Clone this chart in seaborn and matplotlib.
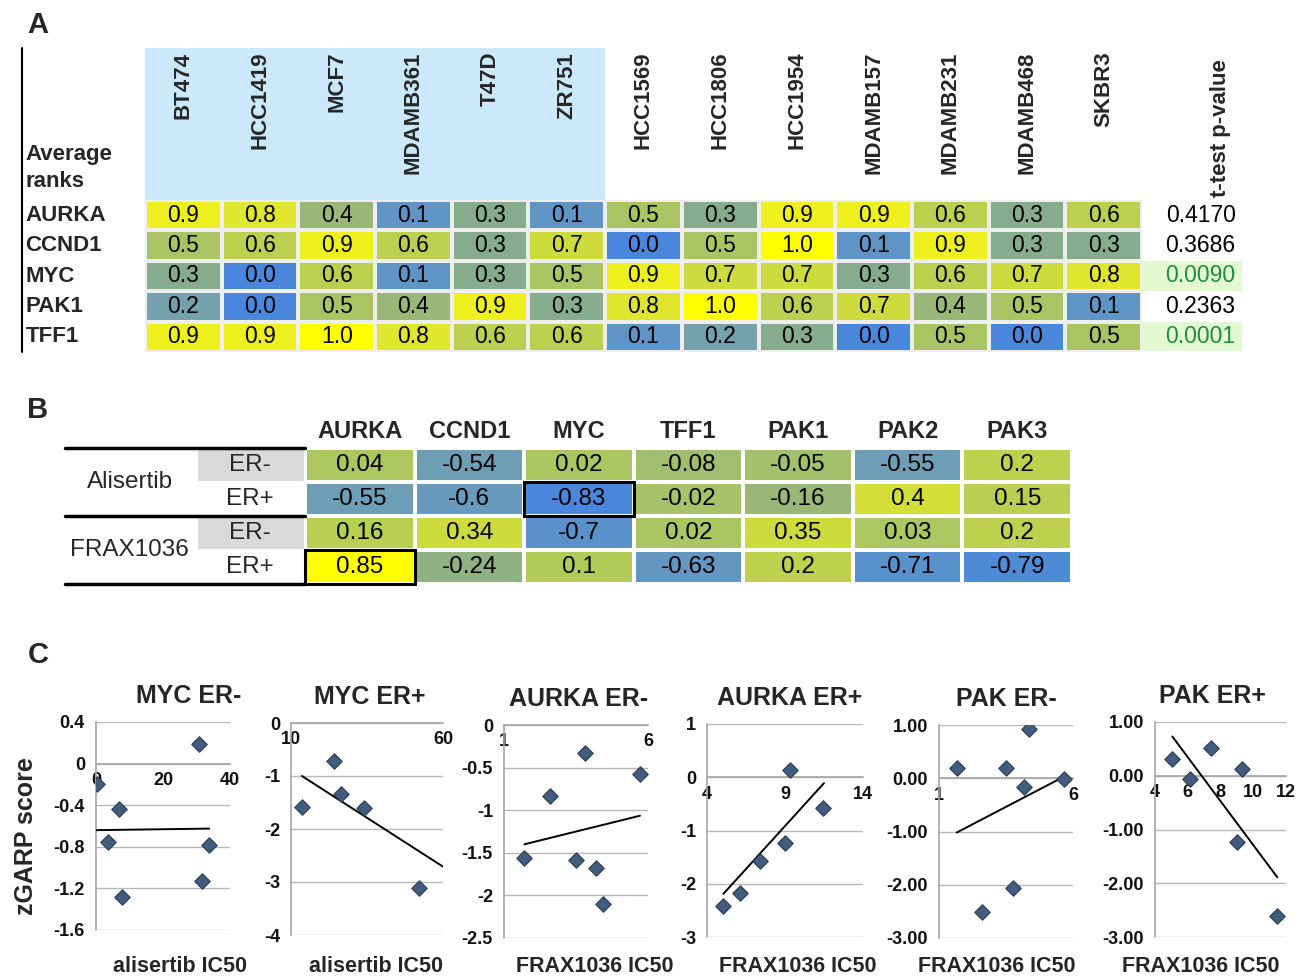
import numpy as np
import pandas as pd
import matplotlib
matplotlib.use("Agg")
import matplotlib.pyplot as plt
import seaborn as sns
from matplotlib.colors import LinearSegmentedColormap
from matplotlib.patches import Rectangle

sns.set_theme(style="white")
plt.rcParams['font.family'] = ['Liberation Sans', 'DejaVu Sans']
NARROW = ['Liberation Sans Narrow', 'Liberation Sans']

# ---------------- panel A : average ranks
cell_lines = ["BT474", "HCC1419", "MCF7", "MDAMB361", "T47D", "ZR751",
              "HCC1569", "HCC1806", "HCC1954", "MDAMB157", "MDAMB231",
              "MDAMB468", "SKBR3"]
genes_a = ["AURKA", "CCND1", "MYC", "PAK1", "TFF1"]
aurka_rank = [0.9, 0.8, 0.4, 0.1, 0.3, 0.1, 0.5, 0.3, 0.9, 0.9, 0.6, 0.3, 0.6]
ccnd1_rank = [0.5, 0.6, 0.9, 0.6, 0.3, 0.7, 0.0, 0.5, 1.0, 0.1, 0.9, 0.3, 0.3]
myc_rank = [0.3, 0.0, 0.6, 0.1, 0.3, 0.5, 0.9, 0.7, 0.7, 0.3, 0.6, 0.7, 0.8]
pak1_rank = [0.2, 0.0, 0.5, 0.4, 0.9, 0.3, 0.8, 1.0, 0.6, 0.7, 0.4, 0.5, 0.1]
tff1_rank = [0.9, 0.9, 1.0, 0.8, 0.6, 0.6, 0.1, 0.2, 0.3, 0.0, 0.5, 0.0, 0.5]
pvalues = [0.4170, 0.3686, 0.0090, 0.2363, 0.0001]
n_er_pos = 6

# ---------------- panel B : correlations
genes_b = ["AURKA", "CCND1", "MYC", "TFF1", "PAK1", "PAK2", "PAK3"]
drugs = ["Alisertib", "FRAX1036"]
er_status = ["ER-", "ER+"]
alisertib_neg = [0.04, -0.54, 0.02, -0.08, -0.05, -0.55, 0.2]
alisertib_pos = [-0.55, -0.6, -0.83, -0.02, -0.16, 0.4, 0.15]
frax_neg = [0.16, 0.34, -0.7, 0.02, 0.35, 0.03, 0.2]
frax_pos = [0.85, -0.24, 0.1, -0.63, 0.2, -0.71, -0.79]

# ---------------- panel C : zGARP vs IC50
myc_neg_ic50 = [0.2, 3.7, 6.9, 7.7, 30.7, 31.5, 33.8]
myc_neg_z = [-0.2, -0.75, -0.44, -1.28, 0.19, -1.13, -0.78]
myc_neg_trend = ([0.0, 33.8], [-0.64, -0.625])

myc_pos_ic50 = [13.6, 24.0, 26.5, 33.9, 52.0]
myc_pos_z = [-1.58, -0.72, -1.34, -1.61, -3.11]
myc_pos_trend = ([13.6, 60.0], [-1.0, -2.71])

aurka_neg_ic50 = [1.71, 2.60, 3.50, 3.81, 4.19, 4.43, 5.72]
aurka_neg_z = [-1.565, -0.83, -1.59, -0.325, -1.68, -2.10, -0.575]
aurka_neg_trend = ([1.71, 5.72], [-1.40, -1.065])

aurka_pos_ic50 = [5.05, 6.12, 7.40, 9.0, 9.32, 11.46]
aurka_pos_z = [-2.42, -2.17, -1.57, -1.23, 0.14, -0.57]
aurka_pos_trend = ([5.05, 11.5], [-2.19, -0.11])

pak_neg_ic50 = [1.68, 2.59, 3.49, 3.75, 4.17, 4.37, 5.66]
pak_neg_z = [0.19, -2.51, 0.19, -2.07, -0.17, 0.93, -0.02]
pak_neg_trend = ([1.66, 5.70], [-1.02, 0.04])

pak_pos_ic50 = [5.02, 6.14, 7.42, 8.99, 9.29, 11.47]
pak_pos_z = [0.32, -0.06, 0.51, -1.23, 0.13, -2.60]
pak_pos_trend = ([5.06, 11.47], [0.73, -1.89])

W, H = 1299, 976
fig = plt.figure(figsize=(W / 100, H / 100), dpi=100)


def box(x0, y0, x1, y1):
    return [x0 / W, 1 - y1 / H, (x1 - x0) / W, (y1 - y0) / H]


def fpos(x, y):
    return x / W, 1 - y / H


cmap = LinearSegmentedColormap.from_list(
    "rank", [(0, '#4a87dc'), (0.15, '#6a9cba'), (0.3, '#87ac8c'),
             (0.5, '#aac464'), (0.7, '#cddc3c'), (0.9, '#eef01e'),
             (1, '#ffff00')])

# ================= A
axA = fig.add_axes(box(145, 200, 1142, 352))
dfA = pd.DataFrame([aurka_rank, ccnd1_rank, myc_rank, pak1_rank, tff1_rank],
                   index=genes_a, columns=cell_lines)
sns.heatmap(dfA, ax=axA, cmap=cmap, vmin=0, vmax=1, annot=True, fmt=".1f",
            cbar=False, linewidths=1.5, linecolor='#eeeeee',
            xticklabels=False, yticklabels=False,
            annot_kws=dict(fontsize=16.5, family=NARROW, color='black'))
axA.add_patch(Rectangle((0, -5), n_er_pos, 5, facecolor='#cce9fc',
                        edgecolor='none', clip_on=False, zorder=0))
for j, name in enumerate(cell_lines):
    axA.text(j + 0.5, -4.88, name, rotation=90, ha='center', va='top',
             fontsize=16, fontweight='bold', clip_on=False)
axA.text(14.02, -4.62, "t-test p-value", rotation=90, ha='center', va='top',
         fontsize=16, fontweight='bold', clip_on=False)
for i, (g, p) in enumerate(zip(genes_a, pvalues)):
    axA.text(-1.56, i + 0.5, g, ha='left', va='center', fontsize=16,
             fontweight='bold', clip_on=False)
    sig = p < 0.05
    if sig:
        axA.add_patch(Rectangle((13, i + 0.02), 1.3, 0.96, facecolor='#e2f9d2',
                                edgecolor='none', clip_on=False))
    axA.text(14.22, i + 0.5, f"{p:.4f}", ha='right', va='center',
             fontsize=16.5, family=NARROW,
             color='#1e8c3e' if sig else 'black', clip_on=False)
axA.text(-1.56, -1.05, "Average\nranks", ha='left', va='center', fontsize=16,
         fontweight='bold', linespacing=1.35, clip_on=False)
axA.plot([-1.604, -1.604], [-5, 5], color='black', lw=1.5, clip_on=False)

# ================= B
axB = fig.add_axes(box(305, 448, 1072, 584))
dfB = pd.DataFrame([alisertib_neg, alisertib_pos, frax_neg, frax_pos],
                   columns=genes_b)
sns.heatmap(dfB, ax=axB, cmap=cmap, vmin=-0.83, vmax=0.85, annot=True,
            fmt="g", cbar=False, linewidths=1.5, linecolor='white',
            xticklabels=False, yticklabels=False,
            annot_kws=dict(fontsize=17.5, family=NARROW, color='black'))
for j, g in enumerate(genes_b):
    axB.text(j + 0.5, -0.5, g, ha='center', va='center', fontsize=17,
             fontweight='bold', clip_on=False)
for r in range(4):
    er = er_status[r % 2]
    axB.add_patch(Rectangle((-0.985, r), 0.985, 1,
                            facecolor='#d9d9d9' if er == "ER-" else 'white',
                            edgecolor='white', lw=1.5, clip_on=False))
    axB.text(-0.5, r + 0.5, er, ha='center', va='center', fontsize=17.5,
             family=NARROW, clip_on=False)
for k, d in enumerate(drugs):
    axB.text(-1.6, 2 * k + 1, d, ha='center', va='center', fontsize=17.5,
             family=NARROW, clip_on=False)
for yy in (0, 2, 4):
    axB.plot([-2.19, 0], [yy, yy], color='black', lw=2.5, clip_on=False)
axB.add_patch(Rectangle((2, 1), 1, 1, fill=False, edgecolor='black', lw=2.2,
                        clip_on=False))
axB.add_patch(Rectangle((0, 3), 1, 1, fill=False, edgecolor='black', lw=2.2,
                        clip_on=False))

# ================= C
panels = [
    ("MYC ER-", myc_neg_ic50, myc_neg_z, myc_neg_trend, (0, 40), [0, 20, 40],
     (-1.6, 0.4), [0.4, 0, -0.4, -0.8, -1.2, -1.6], "{:g}",
     (96, 722, 230, 930), 0.69, "alisertib IC50", 180),
    ("MYC ER+", myc_pos_ic50, myc_pos_z, myc_pos_trend, (10, 60), [10, 60],
     (-4, 0), [0, -1, -2, -3, -4], "{:g}",
     (291, 723, 443, 935), 0.52, "alisertib IC50", 376),
    ("AURKA ER-", aurka_neg_ic50, aurka_neg_z, aurka_neg_trend, (1, 6), [1, 6],
     (-2.5, 0), [0, -0.5, -1, -1.5, -2, -2.5], "{:g}",
     (504, 725, 648, 938), 0.52, "FRAX1036 IC50", 595),
    ("AURKA ER+", aurka_pos_ic50, aurka_pos_z, aurka_pos_trend, (4, 14),
     [4, 9, 14], (-3, 1), [1, 0, -1, -2, -3], "{:g}",
     (707, 724, 863, 937), 0.53, "FRAX1036 IC50", 798),
    ("PAK ER-", pak_neg_ic50, pak_neg_z, pak_neg_trend, (1, 6), [1, 6],
     (-3, 1), [1, 0, -1, -2, -3], "{:.2f}",
     (939, 725, 1073, 938), 0.5, "FRAX1036 IC50", 997),
    ("PAK ER+", pak_pos_ic50, pak_pos_z, pak_pos_trend, (4, 12),
     [4, 6, 8, 10, 12], (-3, 1), [1, 0, -1, -2, -3], "{:.2f}",
     (1155, 722, 1286, 937), 0.44, "FRAX1036 IC50", 1201),
]
grey = '#a6a6a6'
for (title, xs, ys, trend, xlim, xt, ylim, yt, yfmt, bx, tx, xlab,
     xlab_x) in panels:
    ax = fig.add_axes(box(*bx))
    ax.set_axisbelow(True)
    ax.yaxis.grid(True, color='#b8b8b8', lw=1)
    sns.lineplot(x=trend[0], y=trend[1], ax=ax, color='black', lw=1.4,
                 zorder=3)
    sns.scatterplot(x=xs, y=ys, ax=ax, marker='D', s=62, color='#415c7c',
                    edgecolor='#2b3d55', linewidth=0.8, zorder=4)
    ax.set_xlim(*xlim)
    ax.set_ylim(*ylim)
    ax.set_xticks(xt)
    ax.set_xticklabels([f"{v:g}" for v in xt])
    ax.set_yticks(yt)
    ax.set_yticklabels([yfmt.format(v).replace("-0.00", "0.00") for v in yt])
    ax.set_xlabel("")
    ax.set_ylabel("")
    for s in ("top", "right"):
        ax.spines[s].set_visible(False)
    ax.spines['bottom'].set_position(('data', 0))
    ax.spines['bottom'].set_color(grey)
    ax.spines['left'].set_color(grey)
    ax.spines['bottom'].set_linewidth(1.2)
    ax.spines['left'].set_linewidth(1.2)
    ax.tick_params(axis='x', direction='inout', length=6, color=grey,
                   pad=3, labelsize=13)
    ax.tick_params(axis='y', direction='out', length=5, color=grey,
                   pad=3, labelsize=13)
    for lab in ax.get_xticklabels() + ax.get_yticklabels():
        lab.set_fontweight('bold')
        lab.set_color('#111111')
    ax.set_title(title, fontsize=18, fontweight='bold', x=tx, pad=14)
    fig.text(*fpos(xlab_x, 967), xlab, ha='center', va='center',
             fontsize=15.5, fontweight='bold')

fig.text(*fpos(26, 836), "zGARP score", rotation=90, ha='center',
         va='center', fontsize=18, fontweight='bold')

for letter, (lx, ly) in zip("ABC", [(38, 25), (38, 410), (38, 655)]):
    fig.text(*fpos(lx, ly), letter, ha='center', va='center', fontsize=21,
             fontweight='bold')

fig.savefig("out.png", dpi=100)
